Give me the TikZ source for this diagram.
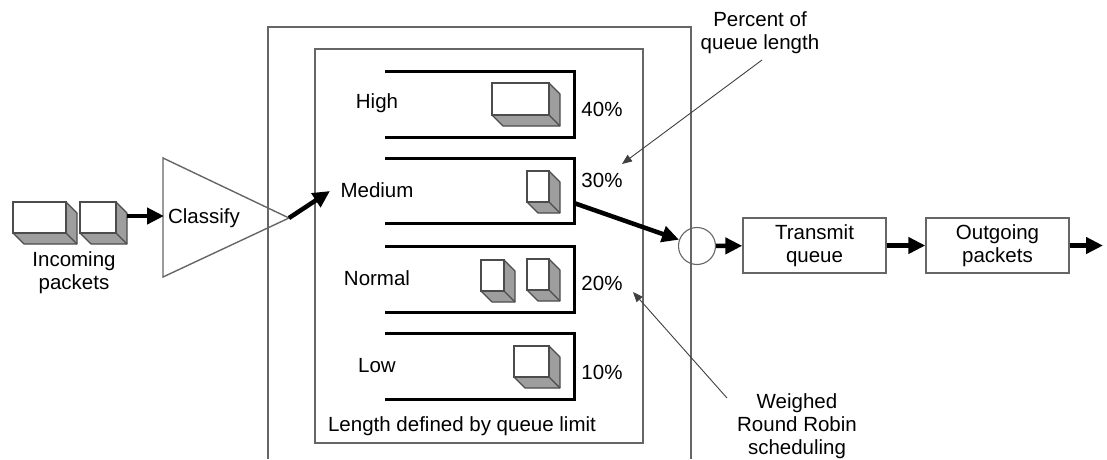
\documentclass[tikz,border=0pt]{standalone}
\usepackage{fontspec}
\setmainfont{Liberation Sans}
\usetikzlibrary{arrows.meta}

\definecolor{edgegray}{gray}{0.40}
\definecolor{pktline}{gray}{0.30}
\definecolor{pktside}{gray}{0.62}

% 3D packet: front face (x1,y1)-(x2,y2), extruded to the lower right
\newcommand\pkt[4]{%
  \fill[pktside,draw=pktline,line width=1.1pt,line join=round]
    (#3,#2) -- (#3+11,#2+11) -- (#3+11,#4+11) -- (#1+11,#4+11) -- (#1,#4) -- (#3,#4) -- cycle;
  \draw[pktline,line width=1.1pt] (#3,#4) -- (#3+11,#4+11);
  \filldraw[fill=white,draw=pktline,line width=1.1pt] (#1,#2) rectangle (#3,#4);
}

\tikzset{
  lbl/.style={font=\fontsize{20.5}{23}\selectfont, inner sep=0pt, align=center},
  frame/.style={draw=edgegray, line width=1.4pt},
  channel/.style={draw=black, line width=3pt},
  flow/.style={line width=4.5pt, -{Triangle[length=17pt,width=16pt]}},
  note/.style={draw=black!75, line width=0.9pt, -{Triangle[length=10pt,width=8pt]}},
  boxnode/.style={frame, minimum width=143pt, minimum height=55pt, inner sep=0pt,
    font=\fontsize{20.5}{23}\selectfont, align=center},
}

\begin{document}
\begin{tikzpicture}[x=1pt,y=-1pt]
\useasboundingbox (0,0) rectangle (1107,459);

% scheduler frames
\draw[frame] (268,459) -- (268,27) -- (691,27) -- (691,459);
\draw[frame] (315,49) rectangle (643,443);

% incoming packets and classifier
\pkt{13}{202}{66}{233}
\pkt{80}{202}{116}{233}
\node[lbl] (inlbl) at (74,273) {Incoming\\packets};

\coordinate (clA) at (163,158);
\coordinate (clB) at (163,277);
\coordinate (cltip) at (289,218);
\draw[frame] (clA) -- (cltip) -- (clB) -- cycle;
\node[lbl] (classify) at (204,218) {Classify};
\coordinate (in2r) at (127,216);
\coordinate (clL) at (164,216);
\coordinate (clout) at (330,191);
\draw[flow] (in2r) -- (clL);
\draw[flow] (cltip) -- (clout);

% priority queues
\foreach \t/\b in {71/137, 158/223, 246/312, 333/399}
  \draw[channel] (385,\t) -- (574,\t) -- (574,\b) -- (385,\b);

\node[lbl] (high)   at (377,103) {High};
\node[lbl] (medium) at (377,190) {Medium};
\node[lbl] (normal) at (377,278) {Normal};
\node[lbl] (low)    at (377,366) {Low};

\node[lbl] (p40) at (602,109) {40\%};
\node[lbl] (p30) at (602,180) {30\%};
\node[lbl] (p20) at (602,283) {20\%};
\node[lbl] (p10) at (602,372) {10\%};

\pkt{492}{83}{549}{115}
\pkt{527}{171}{549}{202}
\pkt{481}{260}{504}{291}
\pkt{527}{259}{549}{290}
\pkt{514}{346}{549}{377}

\node[lbl] (limit) at (462,426) {Length defined by queue limit};

% output stage
\node[draw=edgegray, line width=1.1pt, circle, minimum size=37pt, inner sep=0pt] (rr) at (697,246) {};
\node[boxnode] (tx) at (814.5,245.5) {Transmit\\queue};
\node[boxnode] (og) at (997.5,245.5) {Outgoing\\packets};
\coordinate (medR) at (574,203);
\coordinate (outend) at (1103,245.5);
\draw[flow] (medR) -- (rr);
\draw[flow] (rr) -- (tx);
\draw[flow] (tx) -- (og);
\draw[flow] (og) -- (outend);

% annotations
\node[lbl] (pct) at (760,33) {Percent of\\queue length};
\node[lbl] (wrr) at (797,426) {Weighed\\Round Robin\\scheduling};
\coordinate (pctfrom) at (762,60);
\coordinate (pctto) at (622,164);
\coordinate (wrrfrom) at (727,398);
\coordinate (wrrto) at (633,292);
\draw[note] (pctfrom) -- (pctto);
\draw[note] (wrrfrom) -- (wrrto);
\end{tikzpicture}
\end{document}
